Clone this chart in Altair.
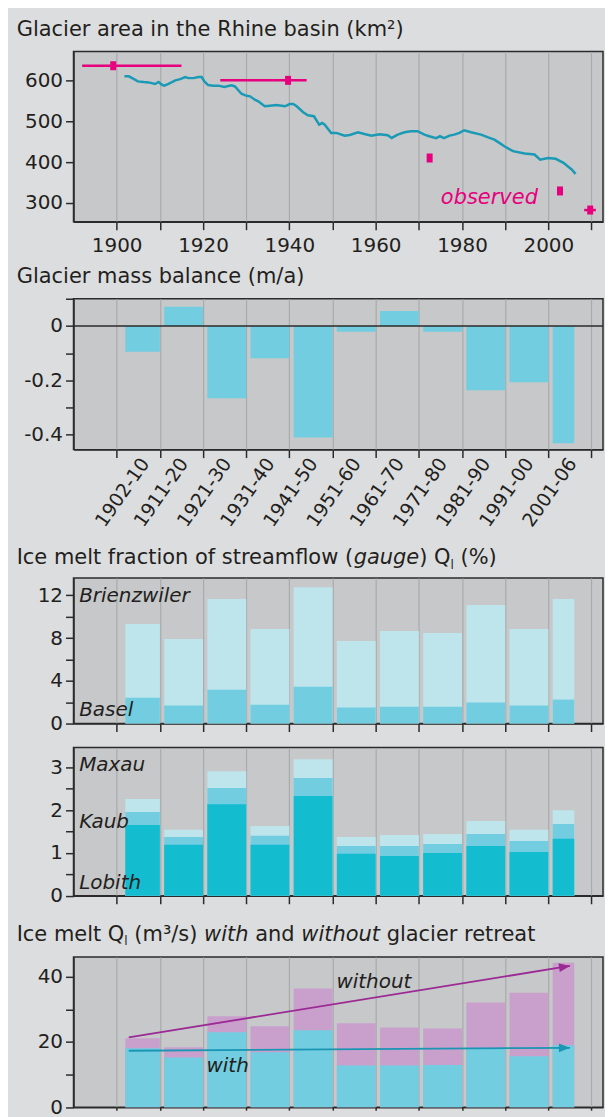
import math
import altair as alt
import pandas as pd

# ---------------- data ----------------
area_years = [1901.8, 1902.8, 1903.6, 1904.9, 1906.2, 1907.4, 1908.9, 1909.7, 1910.5, 1911.0,
              1912.0, 1913.6, 1914.7, 1915.9, 1916.6, 1917.8, 1918.9, 1919.7, 1920.3, 1921.2,
              1922.4, 1923.6, 1924.9, 1926.6, 1927.4, 1928.9, 1930.1, 1930.9, 1932.0, 1932.8,
              1934.3, 1935.5, 1937.0, 1939.0, 1940.1, 1940.9, 1941.7, 1943.2, 1944.3, 1945.7,
              1946.9, 1947.6, 1948.2, 1949.7, 1950.9, 1952.8, 1954.0, 1955.9, 1957.4, 1959.0,
              1960.9, 1962.8, 1963.7, 1965.1, 1966.7, 1968.2, 1969.7, 1971.3, 1972.4, 1974.0,
              1974.9, 1975.8, 1977.1, 1978.2, 1979.4, 1980.5, 1982.1, 1984.4, 1985.9, 1987.5,
              1989.0, 1989.8, 1991.8, 1994.5, 1996.8, 1998.1, 1999.9, 2001.7, 2003.5, 2005.4,
              2006.3]
area_values = [611, 611, 606.5, 598.5, 597, 596, 592, 597, 590, 588,
               592.5, 601, 604, 609, 606.5, 606.5, 609, 609, 598.5, 589.5,
               588, 588, 584.5, 588.6, 586, 568, 563, 561.7, 553.4, 549.5,
               537.2, 538.7, 540.4, 537.2, 542.8, 542.8, 537.2, 522.5, 515, 512.7,
               492, 496, 492, 471.7, 471.7, 465, 466.8, 473.4, 469, 465,
               468.4, 466, 459.4, 467.5, 473.4, 475.9, 475.9, 467.5, 463.6, 458.7,
               463.6, 458.7, 465, 467.5, 471.7, 478.3, 473.4, 467.5, 461.2, 455.3,
               444.7, 439, 426.8, 421, 418.5, 406, 410, 408, 398, 381.7,
               371]

obs_years = [1899.2, 1939.7, 1972.5, 2002.7, 2009.7]
obs_values = [637, 601, 410, 329, 282]
range_start = [1892, 1924, 2008.3]
range_end = [1915, 1944, 2011]
range_values = [637, 601, 282]

periods = ["1902-10", "1911-20", "1921-30", "1931-40", "1941-50", "1951-60",
           "1961-70", "1971-80", "1981-90", "1991-00", "2001-06"]
period_start = [1902, 1911, 1921, 1931, 1941, 1951, 1961, 1971, 1981, 1991, 2001]
period_end = [1910, 1920, 1930, 1940, 1950, 1960, 1970, 1980, 1990, 2000, 2006]

mass_balance = [-0.095, 0.071, -0.266, -0.119, -0.41, -0.021, 0.055, -0.021, -0.237, -0.207, -0.432]

brienzwiler = [9.32, 7.92, 11.65, 8.85, 12.76, 7.73, 8.66, 8.48, 11.09, 8.85, 11.65]
basel = [2.42, 1.68, 3.17, 1.77, 3.45, 1.49, 1.58, 1.58, 1.96, 1.68, 2.24]

maxau = [2.26, 1.54, 2.91, 1.63, 3.19, 1.375, 1.42, 1.445, 1.75, 1.54, 2.0]
kaub = [1.96, 1.375, 2.52, 1.40, 2.75, 1.165, 1.165, 1.21, 1.445, 1.28, 1.68]
lobith = [1.655, 1.19, 2.14, 1.19, 2.33, 0.98, 0.93, 1.0, 1.165, 1.025, 1.33]

q_without = [21.1, 18.4, 27.9, 24.8, 36.4, 25.7, 24.4, 24.1, 32.1, 35.1, 44.3]
q_with = [18.1, 15.2, 23.0, 16.8, 23.6, 12.8, 12.8, 12.9, 17.9, 15.6, 19.0]

arrow_years = [1902.8, 2005.0]
arrow_without = [21.4, 43.3]
arrow_with = [17.3, 18.2]

decades = [1900, 1910, 1920, 1930, 1940, 1950, 1960, 1970, 1980, 1990, 2000, 2010]

title1 = [("Glacier area in the Rhine basin (km²)", "n")]
title2 = [("Glacier mass balance (m/a)", "n")]
title3 = [("Ice melt fraction of streamflow (", "n"), ("gauge", "i"), (") Q", "n"),
          ("l", "s"), (" (%)", "n")]
title5 = [("Ice melt Q", "n"), ("l", "s"), (" (m³/s) ", "n"), ("with", "i"), (" and ", "n"),
          ("without", "i"), (" glacier retreat", "n")]

# ---------------- style ----------------
FONT = "DejaVu Sans"
BG = "#dcdddf"
PLOT = "#c7c8ca"
GRID = "#a9aaac"
DARK = "#2b2b2b"
TEXT = "#231f20"
CYAN = "#72cde0"
LIGHT = "#bde5eb"
DEEP = "#14bcd0"
PURPLE_FILL = "#c9a0cc"
PURPLE = "#9b2a94"
LINE_TEAL = "#1b9ab5"
ARROW_TEAL = "#1a95b3"
MAG = "#e6007e"

PX_PER_YEAR = 4.329
W = 531
XDOM = [1890, 1890 + W / PX_PER_YEAR]
xs = alt.Scale(domain=XDOM, nice=False, zero=False)
TITLE_X = -57
TSIZE = 21
SUBSIZE = 12
VIEW = alt.ViewBackground(fill=PLOT, stroke=DARK, strokeWidth=1.5)

# DejaVu Sans advance widths (em) used to place mixed-style title pieces
EM = {" ": .318, "(": .390, ")": .390, "%": .950, "/": .337, "³": .401, "²": .401,
      "a": .613, "b": .635, "c": .550, "d": .635, "e": .615, "f": .352, "g": .635,
      "h": .634, "i": .278, "k": .579, "l": .278, "m": .974, "n": .634, "o": .612,
      "r": .411, "s": .521, "t": .392, "u": .634, "v": .592, "w": .818, "I": .295,
      "Q": .787, "G": .775, "R": .695}


def text_cell(height, segs, baseline_y):
    rows = {"n": [], "i": [], "s": []}
    x = TITLE_X
    for text, style in segs:
        size = SUBSIZE if style == "s" else TSIZE
        lead = len(text) - len(text.lstrip(" "))
        core = text.strip(" ")
        x0 = x + lead * EM[" "] * size
        if core:
            rows[style].append({"px": x0, "py": baseline_y + (4.3 if style == "s" else 0), "t": core})
        x += sum(EM.get(c, 0.6) for c in text) * size
    layers = []
    for style, r in rows.items():
        if not r:
            continue
        mk = alt.Chart(pd.DataFrame(r)).mark_text(
            align="left", baseline="alphabetic", font=FONT,
            fontSize=SUBSIZE if style == "s" else TSIZE,
            fontStyle="italic" if style == "i" else "normal", color=TEXT)
        layers.append(mk.encode(x=alt.X("px:Q", scale=None, axis=None),
                                y=alt.Y("py:Q", scale=None, axis=None), text="t:N"))
    if not layers:
        layers.append(alt.Chart(pd.DataFrame({"px": [0], "py": [0], "t": [""]})).mark_text().encode(
            x=alt.X("px:Q", scale=None, axis=None), y=alt.Y("py:Q", scale=None, axis=None), text="t:N"))
    return alt.layer(*layers).properties(width=W, height=height)


def x_axis(labels=False, tick=8):
    kw = dict(values=decades, tickSize=tick, tickWidth=1.5, tickColor=DARK,
              domainColor=DARK, domainWidth=1.5, grid=True, gridColor=GRID,
              gridWidth=1.2, title=None, labelFlush=False, labels=labels)
    if labels:
        kw.update(format="d", labelExpr="datum.value % 20 == 0 ? datum.label : ''",
                  labelPadding=6, labelFontSize=20, labelColor=TEXT, labelFont=FONT,
                  labelOverlap=False)
    return alt.Axis(**kw)


def y_axis(values, expr, fmt=None):
    kw = dict(values=values, labelExpr=expr, tickSize=8, tickWidth=1.5, tickColor=DARK,
              domainColor=DARK, domainWidth=1.5, grid=False, title=None,
              labelPadding=3, labelFontSize=20, labelColor=TEXT, labelFont=FONT,
              labelFlush=False, labelOverlap=False)
    if fmt:
        kw["format"] = fmt
    return alt.Axis(**kw)


def italic_text(df, color=TEXT, size=20):
    return alt.Chart(df).mark_text(align="left", baseline="alphabetic", fontStyle="italic",
                                   font=FONT, fontSize=size, color=color)


periods_df = pd.DataFrame({
    "period": periods, "start": period_start, "end": period_end,
    "mb": mass_balance, "brienz": brienzwiler, "basel": basel,
    "maxau": maxau, "kaub": kaub, "lobith": lobith,
    "qwo": q_without, "qw": q_with,
})
periods_df["labpos"] = [s + 4.5 for s in period_start]

# ---------------- panel 1 ----------------
ax1 = x_axis(labels=True)
ys1 = alt.Scale(domain=[253.4, 672.1], nice=False, zero=False)
ya1 = y_axis([300, 400, 500, 600], "datum.label", "d")

area_df = pd.DataFrame({"year": area_years, "v": area_values})
obs_df = pd.DataFrame({"year": obs_years, "v": obs_values})
rng_df = pd.DataFrame({"year": range_start, "end": range_end, "v": range_values})
obs_lab = pd.DataFrame({"year": [1975.1], "v": [295.8], "t": ["observed"]})

X1 = alt.X("year:Q", scale=xs, axis=ax1)
Y1 = alt.Y("v:Q", scale=ys1, axis=ya1)

p1 = alt.layer(
    alt.Chart(area_df).mark_line(color=LINE_TEAL, strokeWidth=2.5).encode(x=X1, y=Y1),
    alt.Chart(rng_df).mark_rule(color=MAG, strokeWidth=2.5).encode(x=X1, x2="end:Q", y=Y1),
    alt.Chart(obs_df).mark_point(shape="M-1,-1.5L1,-1.5L1,1.5L-1,1.5Z", size=36, filled=True,
                                 color=MAG, opacity=1, strokeWidth=0).encode(x=X1, y=Y1),
    italic_text(obs_lab, color=MAG, size=21).encode(x=X1, y=Y1, text="t:N"),
).properties(width=W, height=170.7, view=VIEW)

# ---------------- panel 2 ----------------
ys2 = alt.Scale(domain=[-0.455, 0.1], nice=False, zero=False)
ya2 = y_axis([0.1, 0, -0.1, -0.2, -0.3, -0.4],
             "round(datum.value*10) % 2 != 0 ? '' : (datum.value == 0 ? '0' : '-' + format(abs(datum.value), '.1f'))")
lab_expr = ("[" + ",".join("'%s'" % p for p in periods) + "][indexof(["
            + ",".join(str(v) for v in periods_df["labpos"]) + "], datum.value)]")
lab_axis = alt.Axis(values=list(periods_df["labpos"]), labelExpr=lab_expr, ticks=False, tickSize=0,
                    domain=False, grid=False, title=None, labelAngle=305, labelAlign="right",
                    labelBaseline="middle", labelPadding=10, labelFontSize=19, labelColor=TEXT,
                    labelFont=FONT, labelOverlap=False, labelFlush=False, orient="bottom")
ax2 = x_axis()
ax2.orient = "bottom"

p2 = alt.layer(
    alt.Chart(periods_df).mark_bar(color=CYAN).encode(
        x=alt.X("start:Q", scale=xs, axis=ax2), x2="end:Q",
        y=alt.Y("mb:Q", scale=ys2, axis=ya2), y2=alt.datum(0)),
    alt.Chart(periods_df).mark_rule(color=DARK, strokeWidth=1.5).encode(
        y=alt.Y("zero:Q", scale=ys2, axis=ya2)).transform_calculate(zero="0").transform_filter("datum.start == 1902"),
    alt.Chart(periods_df).mark_point(opacity=0).encode(
        x=alt.X("labpos:Q", scale=xs, axis=lab_axis)),
).resolve_axis(x="independent").properties(width=W, height=151.3, view=VIEW)

# ---------------- panel 3 ----------------
ys3 = alt.Scale(domain=[0, 13.62], nice=False, zero=False)
ya3 = y_axis([0, 2, 4, 6, 8, 10, 12], "datum.value % 4 == 0 ? datum.label : ''", "d")
ax3 = x_axis()
X3 = alt.X("start:Q", scale=xs, axis=ax3)
lab3 = pd.DataFrame({"year": [1891.3, 1891.3], "v": [11.35, 0.72], "t": ["Brienzwiler", "Basel"]})

p3 = alt.layer(
    alt.Chart(periods_df).mark_bar(color=LIGHT).encode(
        x=X3, x2="end:Q", y=alt.Y("brienz:Q", scale=ys3, axis=ya3), y2=alt.datum(0)),
    alt.Chart(periods_df).mark_bar(color=CYAN).encode(
        x=X3, x2="end:Q", y=alt.Y("basel:Q", scale=ys3, axis=ya3), y2=alt.datum(0)),
    italic_text(lab3).encode(x=alt.X("year:Q", scale=xs, axis=ax3),
                             y=alt.Y("v:Q", scale=ys3, axis=ya3), text="t:N"),
).properties(width=W, height=146, view=VIEW)

# ---------------- panel 4 ----------------
ys4 = alt.Scale(domain=[0, 3.466], nice=False, zero=False)
ya4 = y_axis([0, 0.5, 1, 1.5, 2, 2.5, 3], "datum.value % 1 == 0 ? datum.label : ''", ".0f")
ax4 = x_axis()
X4 = alt.X("start:Q", scale=xs, axis=ax4)
lab4 = pd.DataFrame({"year": [1891.3] * 3, "v": [2.91, 1.585, 0.163], "t": ["Maxau", "Kaub", "Lobith"]})

p4 = alt.layer(
    alt.Chart(periods_df).mark_bar(color=LIGHT).encode(
        x=X4, x2="end:Q", y=alt.Y("maxau:Q", scale=ys4, axis=ya4), y2=alt.datum(0)),
    alt.Chart(periods_df).mark_bar(color=CYAN).encode(
        x=X4, x2="end:Q", y=alt.Y("kaub:Q", scale=ys4, axis=ya4), y2=alt.datum(0)),
    alt.Chart(periods_df).mark_bar(color=DEEP).encode(
        x=X4, x2="end:Q", y=alt.Y("lobith:Q", scale=ys4, axis=ya4), y2=alt.datum(0)),
    italic_text(lab4).encode(x=alt.X("year:Q", scale=xs, axis=ax4),
                             y=alt.Y("v:Q", scale=ys4, axis=ya4), text="t:N"),
).properties(width=W, height=148.7, view=VIEW)

# ---------------- panel 5 ----------------
H5 = 150.7
ymax5 = 46.08
ys5 = alt.Scale(domain=[0, ymax5], nice=False, zero=False)
ya5 = y_axis([0, 10, 20, 30, 40], "datum.value % 20 == 0 ? datum.label : ''", "d")
ax5 = x_axis(tick=3)
X5 = alt.X("start:Q", scale=xs, axis=ax5)
px_unit = H5 / ymax5


def head_angle(v):
    dx = (arrow_years[1] - arrow_years[0]) * PX_PER_YEAR
    dy = -(v[1] - v[0]) * px_unit
    return (math.degrees(math.atan2(dy, dx)) + 360) % 360


arrows_df = pd.DataFrame({
    "year": arrow_years * 2,
    "v": arrow_without + arrow_with,
    "arrow": ["without", "without", "with", "with"],
})
heads_df = pd.DataFrame({
    "year": [arrow_years[1], arrow_years[1]],
    "v": [arrow_without[1], arrow_with[1]],
    "arrow": ["without", "with"],
    "ang": [head_angle(arrow_without), head_angle(arrow_with)],
})
lab5 = pd.DataFrame({"year": [1950.9, 1920.8], "v": [36.6, 10.8], "t": ["without", "with"]})
arrow_color = alt.Color("arrow:N", scale=alt.Scale(domain=["without", "with"],
                                                   range=[PURPLE, ARROW_TEAL]), legend=None)
XA = alt.X("year:Q", scale=xs, axis=ax5)
YA = alt.Y("v:Q", scale=ys5, axis=ya5)

p5 = alt.layer(
    alt.Chart(periods_df).mark_bar(color=PURPLE_FILL).encode(
        x=X5, x2="end:Q", y=alt.Y("qwo:Q", scale=ys5, axis=ya5), y2=alt.datum(0)),
    alt.Chart(periods_df).mark_bar(color=CYAN).encode(
        x=X5, x2="end:Q", y=alt.Y("qw:Q", scale=ys5, axis=ya5), y2=alt.datum(0)),
    alt.Chart(arrows_df).mark_line(strokeWidth=1.8).encode(
        x=XA, y=YA, color=arrow_color, detail="arrow:N"),
    alt.Chart(heads_df).mark_point(shape="M0,0L-2,-0.8L-2,0.8Z", size=121, filled=True,
                                   opacity=1, strokeWidth=0).encode(
        x=XA, y=YA, color=arrow_color, angle=alt.Angle("ang:Q", scale=None)),
    italic_text(lab5).encode(x=XA, y=YA, text="t:N"),
).properties(width=W, height=H5, view=VIEW)

# ---------------- layout (flush: positions = cumulative heights) ----------------
s0 = text_cell(40.3, title1, 25.3)
s1 = text_cell(77, title2, 61)
s2 = text_cell(127.7, title3, 114.4)
s3 = text_cell(23.3, [], 0)
s4 = text_cell(61, title5, 44.7)

chart = alt.vconcat(s0, p1, s1, p2, s2, p3, s3, p4, s4, p5, spacing=0, bounds="flush").properties(
    background=BG,
    padding={"left": 7.7, "top": 0, "right": 0, "bottom": 0},
).configure_view(
    stroke="transparent"
).configure_axis(
    labelFont=FONT, labelColor=TEXT
).configure_text(font=FONT)

chart.save("out.html", embed_options={"renderer": "svg", "actions": False})
